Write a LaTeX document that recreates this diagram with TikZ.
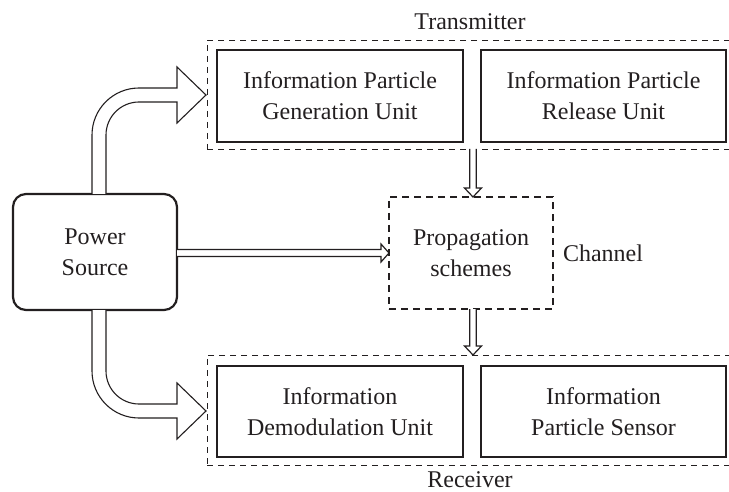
\documentclass[tikz,border=0pt]{standalone}
\usepackage{fontspec}
\setmainfont{Liberation Serif}
\usetikzlibrary{calc}

\definecolor{ink}{RGB}{35,31,32}

\tikzset{
  every node/.style={inner sep=0pt, outer sep=0pt, text=ink},
  lbl/.style={font=\fontsize{24}{31}\selectfont, align=center},
  unitbox/.style={lbl, draw=ink, line width=2.6pt},
  groupframe/.style={draw=ink, line width=0.9pt, dash pattern=on 6pt off 5pt},
  chanbox/.style={lbl, draw=ink, line width=2.2pt, dash pattern=on 7pt off 5pt},
  srcbox/.style={lbl, draw=ink, line width=2.2pt, rounded corners=13pt},
  hollow/.style={draw=ink, fill=white, line width=1.2pt, line join=miter},
  fat/.style={draw=ink, fill=white, line width=1.1pt, line join=miter},
}

\begin{document}
\begin{tikzpicture}[x=1pt, y=-1pt]
\useasboundingbox (0,0) rectangle (729,492);

% group frames (the right edges run past the page)
\node[groupframe, minimum width=526pt, minimum height=109pt] (tx) at (470,94.5) {};
\node[groupframe, minimum width=526pt, minimum height=110pt] (rx) at (470,410) {};

% functional units
\node[unitbox, minimum width=246pt, minimum height=92pt] (gen) at (340,96)
  {Information Particle\\Generation Unit};
\node[unitbox, minimum width=245pt, minimum height=92pt] (rel) at (603.5,96)
  {Information Particle\\Release Unit};
\node[unitbox, minimum width=246pt, minimum height=91pt] (dem) at (340,411.5)
  {Information\\Demodulation Unit};
\node[unitbox, minimum width=245pt, minimum height=91pt] (sen) at (603.5,411.5)
  {Information\\Particle Sensor};

\node[chanbox, minimum width=164pt, minimum height=112pt] (prop) at (471,253)
  {Propagation\\schemes};
\node[srcbox, minimum width=164pt, minimum height=116pt] (power) at (95,252)
  {Power\\Source};

% group labels
\node[lbl] (txl) at (470,22) {Transmitter};
\node[lbl] (rxl) at (470,480) {Receiver};
\node[lbl, anchor=west] (chl) at (563,253) {Channel};

% thin hollow arrows
\coordinate (vt) at ($(prop.north)+(2,0)$);
\coordinate (vs) at (tx.south -| vt);
\draw[hollow] ($(vs)+(-3.2,0)$) -- ($(vt)+(-3.2,-9)$) -- ($(vt)+(-8.5,-9)$) -- (vt)
  -- ($(vt)+(8.5,-9)$) -- ($(vt)+(3.2,-9)$) -- ($(vs)+(3.2,0)$);

\coordinate (ws) at ($(prop.south)+(2,0)$);
\coordinate (wt) at (rx.north -| ws);
\draw[hollow] ($(ws)+(-3.2,0)$) -- ($(wt)+(-3.2,-9)$) -- ($(wt)+(-8.5,-9)$) -- (wt)
  -- ($(wt)+(8.5,-9)$) -- ($(wt)+(3.2,-9)$) -- ($(ws)+(3.2,0)$);

\coordinate (hs) at (power.east |- prop.west);
\draw[hollow] ($(hs)+(0,-3.4)$) -- ($(prop.west)+(-8,-3.4)$) -- ($(prop.west)+(-8,-9)$)
  -- (prop.west) -- ($(prop.west)+(-8,9)$) -- ($(prop.west)+(-8,3.4)$) -- ($(hs)+(0,3.4)$);

% bent power arrows
\coordinate (ub) at ($(power.north)+(4,0)$);
\coordinate (ut) at ($(tx.west)+(-1,0.5)$);
\draw[fat] ($(ub)+(-7,0)$) -- ($(ub |- ut)+(-7,40)$) arc (180:90:47pt)
  -- ($(ut)+(-29,-7)$) -- ($(ut)+(-29,-28)$) -- (ut) -- ($(ut)+(-29,28)$)
  -- ($(ut)+(-29,7)$) -- ($(ub |- ut)+(40,7)$) arc (90:180:33pt) -- ($(ub)+(7,0)$);

\coordinate (lb) at ($(power.south)+(4,0)$);
\coordinate (lt) at ($(rx.west)+(-1,1)$);
\draw[fat] ($(lb)+(-7,0)$) -- ($(lb |- lt)+(-7,-40)$) arc (180:270:47pt)
  -- ($(lt)+(-29,7)$) -- ($(lt)+(-29,28)$) -- (lt) -- ($(lt)+(-29,-28)$)
  -- ($(lt)+(-29,-7)$) -- ($(lb |- lt)+(40,-7)$) arc (270:180:33pt) -- ($(lb)+(7,0)$);
\end{tikzpicture}
\end{document}
